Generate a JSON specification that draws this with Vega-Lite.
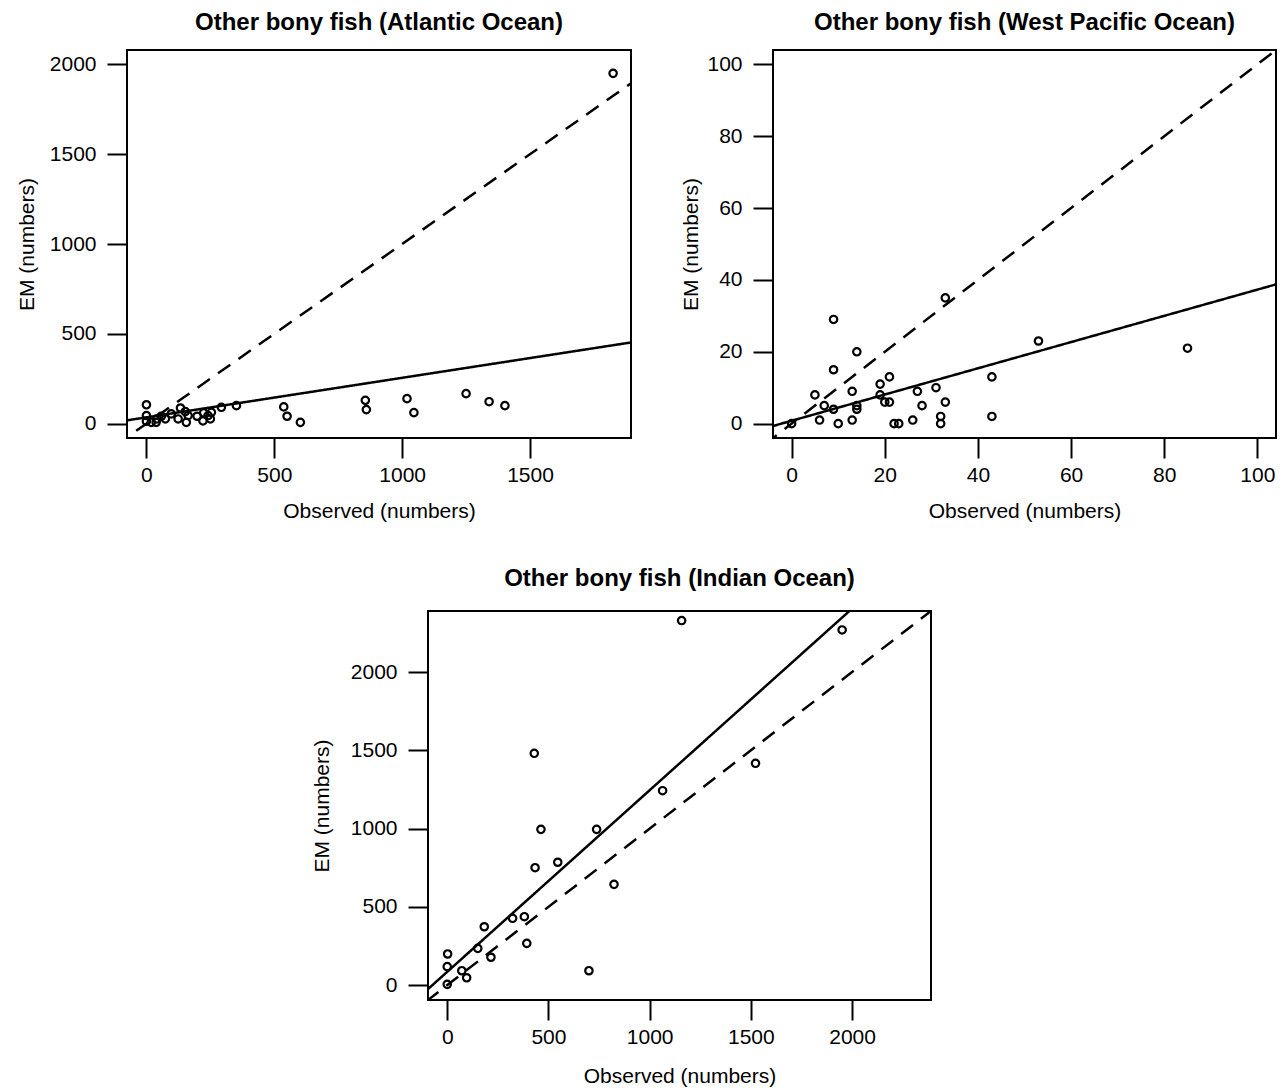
{
  "$schema": "https://vega.github.io/schema/vega-lite/v6.json",
  "background": "white",
  "padding": {"left": 15, "top": 10, "right": 5, "bottom": 5},
  "config": {
    "font": "Liberation Sans",
    "view": {"stroke": "black", "strokeWidth": 2},
    "title": {"font": "Liberation Sans", "fontSize": 24, "fontWeight": "bold", "color": "black", "frame": "group", "anchor": "middle", "baseline": "alphabetic"},
    "axis": {"domain": false, "grid": false, "ticks": true, "tickColor": "black", "tickWidth": 2, "tickSize": 20, "format": "d",
      "labelFont": "Liberation Sans", "labelFontSize": 21, "labelColor": "black", "labelOverlap": false, "labelFlush": false, "labelBound": false,
      "titleFont": "Liberation Sans", "titleFontSize": 21, "titleFontWeight": "normal", "titleColor": "black", "titleBaseline": "middle"},
    "axisX": {"labelPadding": 6, "titleY": 76},
    "axisY": {"labelPadding": 11}
  },
  "datasets": {
    "atl_pts": [
      {"observed": 0, "em": 105}, {"observed": 0, "em": 45}, {"observed": 0, "em": 13}, {"observed": 19, "em": 7},
      {"observed": 38, "em": 7}, {"observed": 41, "em": 26}, {"observed": 58, "em": 41}, {"observed": 74, "em": 26},
      {"observed": 97, "em": 54}, {"observed": 124, "em": 26}, {"observed": 133, "em": 87}, {"observed": 152, "em": 67},
      {"observed": 156, "em": 7}, {"observed": 163, "em": 45}, {"observed": 198, "em": 41}, {"observed": 221, "em": 15},
      {"observed": 224, "em": 60}, {"observed": 241, "em": 45}, {"observed": 250, "em": 26}, {"observed": 254, "em": 63},
      {"observed": 293, "em": 91}, {"observed": 352, "em": 100}, {"observed": 537, "em": 93}, {"observed": 550, "em": 41},
      {"observed": 602, "em": 7}, {"observed": 856, "em": 130}, {"observed": 860, "em": 78}, {"observed": 1019, "em": 139},
      {"observed": 1046, "em": 61}, {"observed": 1250, "em": 167}, {"observed": 1340, "em": 122}, {"observed": 1402, "em": 100},
      {"observed": 1825, "em": 1950}
    ],
    "atl_lines": [
      {"observed": -200, "em": -200, "line": "1:1"}, {"observed": 2200, "em": 2200, "line": "1:1"},
      {"observed": -200, "em": -9, "line": "fit"}, {"observed": 2200, "em": 519, "line": "fit"}
    ],
    "wp_pts": [
      {"observed": 0, "em": 0}, {"observed": 5, "em": 8}, {"observed": 6, "em": 1}, {"observed": 7, "em": 5},
      {"observed": 9, "em": 29}, {"observed": 9, "em": 15}, {"observed": 9, "em": 4}, {"observed": 10, "em": 0},
      {"observed": 13, "em": 1}, {"observed": 13, "em": 9}, {"observed": 14, "em": 20}, {"observed": 14, "em": 5},
      {"observed": 14, "em": 4}, {"observed": 19, "em": 8}, {"observed": 19, "em": 11}, {"observed": 20, "em": 6},
      {"observed": 21, "em": 6}, {"observed": 21, "em": 13}, {"observed": 22, "em": 0}, {"observed": 23, "em": 0},
      {"observed": 26, "em": 1}, {"observed": 27, "em": 9}, {"observed": 28, "em": 5}, {"observed": 31, "em": 10},
      {"observed": 32, "em": 2}, {"observed": 32, "em": 0}, {"observed": 33, "em": 6}, {"observed": 33, "em": 35},
      {"observed": 43, "em": 13}, {"observed": 43, "em": 2}, {"observed": 53, "em": 23}, {"observed": 85, "em": 21}
    ],
    "wp_lines": [
      {"observed": -10, "em": -10, "line": "1:1"}, {"observed": 110, "em": 110, "line": "1:1"},
      {"observed": -10, "em": -2.85, "line": "fit"}, {"observed": 110, "em": 40.95, "line": "fit"}
    ],
    "ind_pts": [
      {"observed": 1158, "em": 2329}, {"observed": 1951, "em": 2269}, {"observed": 430, "em": 1481}, {"observed": 1523, "em": 1417},
      {"observed": 1064, "em": 1242}, {"observed": 463, "em": 995}, {"observed": 738, "em": 995}, {"observed": 546, "em": 785},
      {"observed": 434, "em": 750}, {"observed": 824, "em": 644}, {"observed": 381, "em": 437}, {"observed": 323, "em": 427},
      {"observed": 183, "em": 373}, {"observed": 393, "em": 267}, {"observed": 151, "em": 235}, {"observed": 216, "em": 178},
      {"observed": 2, "em": 199}, {"observed": 0, "em": 118}, {"observed": 72, "em": 92}, {"observed": 96, "em": 47},
      {"observed": 700, "em": 92}, {"observed": 0, "em": 5}
    ],
    "ind_lines": [
      {"observed": -200, "em": -200, "line": "1:1"}, {"observed": 2600, "em": 2600, "line": "1:1"},
      {"observed": -200, "em": -147, "line": "fit"}, {"observed": 2600, "em": 3101, "line": "fit"}
    ]
  },
  "spacing": 44,
  "vconcat": [
    {
      "spacing": 142,
      "bounds": "flush",
      "hconcat": [
        {
          "width": 504, "height": 388,
          "title": {"text": "Other bony fish (Atlantic Ocean)", "offset": 15},
          "layer": [
            {
              "data": {"name": "atl_pts"},
              "mark": {"type": "point", "shape": "circle", "filled": false, "stroke": "black", "strokeWidth": 2.2, "size": 55, "opacity": 1},
              "encoding": {
                "x": {"field": "observed", "type": "quantitative", "scale": {"domain": [-76, 1895], "nice": false, "zero": false}, "axis": {"values": [0, 500, 1000, 1500], "title": "Observed (numbers)", "titleY": 73}},
                "y": {"field": "em", "type": "quantitative", "scale": {"domain": [-80, 2080], "nice": false, "zero": false}, "axis": {"values": [0, 500, 1000, 1500, 2000], "title": "EM (numbers)", "titleX": -100}}
              }
            },
            {
              "data": {"name": "atl_lines"},
              "mark": {"type": "line", "clip": true, "color": "black", "strokeWidth": 2.5},
              "encoding": {
                "x": {"field": "observed", "type": "quantitative", "scale": {"domain": [-76, 1895], "nice": false, "zero": false}, "axis": {"values": [0, 500, 1000, 1500], "title": "Observed (numbers)", "titleY": 73}},
                "y": {"field": "em", "type": "quantitative", "scale": {"domain": [-80, 2080], "nice": false, "zero": false}, "axis": {"values": [0, 500, 1000, 1500, 2000], "title": "EM (numbers)", "titleX": -100}},
                "strokeDash": {"field": "line", "type": "nominal", "scale": {"domain": ["1:1", "fit"], "range": [[15, 10], [1, 0]]}, "legend": null}
              }
            }
          ]
        },
        {
          "width": 503, "height": 388,
          "title": {"text": "Other bony fish (West Pacific Ocean)", "offset": 15},
          "layer": [
            {
              "data": {"name": "wp_pts"},
              "mark": {"type": "point", "shape": "circle", "filled": false, "stroke": "black", "strokeWidth": 2.2, "size": 55, "opacity": 1},
              "encoding": {
                "x": {"field": "observed", "type": "quantitative", "scale": {"domain": [-4, 104], "nice": false, "zero": false}, "axis": {"values": [0, 20, 40, 60, 80, 100], "title": "Observed (numbers)", "titleY": 73}},
                "y": {"field": "em", "type": "quantitative", "scale": {"domain": [-4, 104], "nice": false, "zero": false}, "axis": {"values": [0, 20, 40, 60, 80, 100], "title": "EM (numbers)", "titleX": -82}}
              }
            },
            {
              "data": {"name": "wp_lines"},
              "mark": {"type": "line", "clip": true, "color": "black", "strokeWidth": 2.5},
              "encoding": {
                "x": {"field": "observed", "type": "quantitative", "scale": {"domain": [-4, 104], "nice": false, "zero": false}, "axis": {"values": [0, 20, 40, 60, 80, 100], "title": "Observed (numbers)", "titleY": 73}},
                "y": {"field": "em", "type": "quantitative", "scale": {"domain": [-4, 104], "nice": false, "zero": false}, "axis": {"values": [0, 20, 40, 60, 80, 100], "title": "EM (numbers)", "titleX": -82}},
                "strokeDash": {"field": "line", "type": "nominal", "scale": {"domain": ["1:1", "fit"], "range": [[15, 10], [1, 0]]}, "legend": null}
              }
            }
          ]
        }
      ]
    },
    {
      "spacing": 20,
      "bounds": "flush",
      "hconcat": [
        {
          "width": 281, "height": 388,
          "view": {"stroke": null},
          "data": {"values": [{"a": 1}]},
          "mark": {"type": "point", "opacity": 0},
          "encoding": {}
        },
        {
          "width": 503, "height": 389,
          "title": {"text": "Other bony fish (Indian Ocean)", "offset": 20},
          "layer": [
            {
              "data": {"name": "ind_pts"},
              "mark": {"type": "point", "shape": "circle", "filled": false, "stroke": "black", "strokeWidth": 2.2, "size": 55, "opacity": 1},
              "encoding": {
                "x": {"field": "observed", "type": "quantitative", "scale": {"domain": [-95, 2390], "nice": false, "zero": false}, "axis": {"values": [0, 500, 1000, 1500, 2000], "title": "Observed (numbers)"}},
                "y": {"field": "em", "type": "quantitative", "scale": {"domain": [-95, 2390], "nice": false, "zero": false}, "axis": {"values": [0, 500, 1000, 1500, 2000], "title": "EM (numbers)", "titleX": -106}}
              }
            },
            {
              "data": {"name": "ind_lines"},
              "mark": {"type": "line", "clip": true, "color": "black", "strokeWidth": 2.5},
              "encoding": {
                "x": {"field": "observed", "type": "quantitative", "scale": {"domain": [-95, 2390], "nice": false, "zero": false}, "axis": {"values": [0, 500, 1000, 1500, 2000], "title": "Observed (numbers)"}},
                "y": {"field": "em", "type": "quantitative", "scale": {"domain": [-95, 2390], "nice": false, "zero": false}, "axis": {"values": [0, 500, 1000, 1500, 2000], "title": "EM (numbers)", "titleX": -106}},
                "strokeDash": {"field": "line", "type": "nominal", "scale": {"domain": ["1:1", "fit"], "range": [[15, 10], [1, 0]]}, "legend": null}
              }
            }
          ]
        }
      ]
    }
  ]
}
